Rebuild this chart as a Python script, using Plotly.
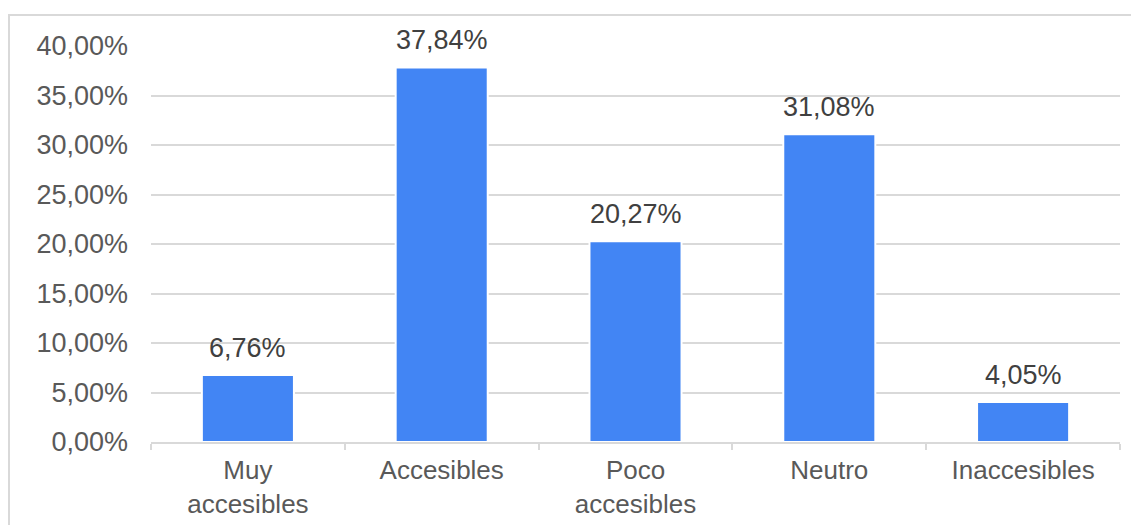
import plotly.graph_objects as go

categories = ["Muy<br>accesibles", "Accesibles", "Poco<br>accesibles", "Neutro", "Inaccesibles"]
values = [6.76, 37.84, 20.27, 31.08, 4.05]
value_labels = ["6,76%", "37,84%", "20,27%", "31,08%", "4,05%"]
y_ticks = [0, 5, 10, 15, 20, 25, 30, 35, 40]
y_tick_labels = ["0,00%", "5,00%", "10,00%", "15,00%", "20,00%", "25,00%", "30,00%", "35,00%", "40,00%"]

FONT = "Liberation Sans, Arial, sans-serif"
GRID = "#d9d9d9"

fig = go.Figure()
fig.add_trace(go.Bar(
    x=categories, y=values,
    marker=dict(color="#4285F4", line=dict(color="white", width=2)),
    hoverinfo="skip",
))

for c, v, t in zip(categories, values, value_labels):
    fig.add_annotation(x=c, y=v, text=t, showarrow=False, yanchor="bottom",
                       yshift=10, font=dict(family=FONT, size=27, color="#404040"))

# page has an 8px body margin; figure is offset accordingly
W, H = 1131, 517
L, R, T, B = 143, 19, 38, 83
pw, ph = W - L - R, H - T - B
fig.add_shape(type="rect", xref="paper", yref="paper",
              x0=(1 - L) / pw, x1=(W + 20 - L) / pw,
              y0=-(B + 20) / ph, y1=1 + (T - 7) / ph,
              line=dict(color=GRID, width=2), fillcolor="rgba(0,0,0,0)", layer="below")

fig.update_layout(
    width=W, height=H,
    margin=dict(l=L, r=R, t=T, b=B, pad=0, autoexpand=False),
    paper_bgcolor="white", plot_bgcolor="white",
    bargap=0.525,
    showlegend=False,
    font=dict(family=FONT, size=26, color="#595959"),
)
fig.update_xaxes(
    showline=True, linecolor=GRID, linewidth=2, automargin=False,
    ticks="outside", tickson="boundaries", ticklen=6, tickcolor=GRID, tickwidth=2,
    ticklabelstandoff=4,
    showgrid=False, tickfont=dict(family=FONT, size=26, color="#595959"),
)
fig.update_yaxes(
    range=[0, 40], tickvals=y_ticks, ticktext=y_tick_labels, automargin=False,
    showgrid=True, gridcolor=GRID, gridwidth=2, zeroline=False, showline=False,
    ticks="", ticklabelstandoff=22, tickfont=dict(family=FONT, size=27, color="#595959"),
)

fig.write_html("out.html")
